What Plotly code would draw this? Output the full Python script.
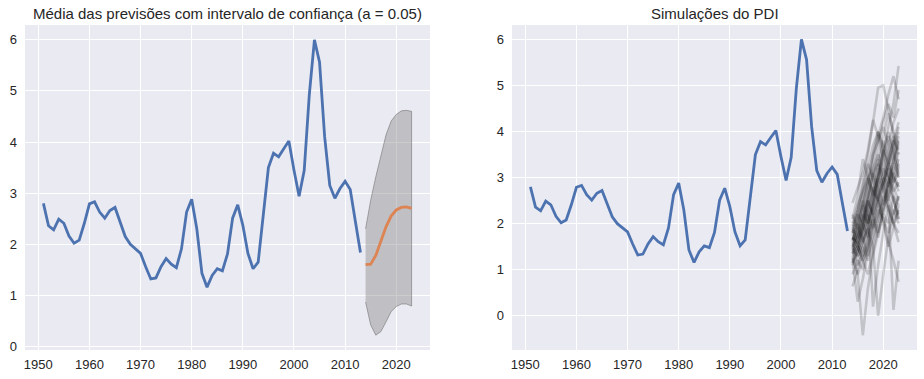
import plotly.graph_objects as go

years = list(range(1951, 2014))
pdi = [2.80, 2.36, 2.28, 2.49, 2.41, 2.16, 2.02, 2.08, 2.41, 2.79,
       2.83, 2.63, 2.51, 2.66, 2.72, 2.42, 2.15, 2.00, 1.90, 1.82,
       1.56, 1.32, 1.34, 1.56, 1.72, 1.61, 1.54, 1.91, 2.63, 2.88,
       2.30, 1.43, 1.16, 1.39, 1.52, 1.48, 1.81, 2.51, 2.77, 2.37,
       1.82, 1.52, 1.65, 2.54, 3.50, 3.78, 3.71, 3.87, 4.02, 3.45,
       2.94, 3.44, 4.93, 6.00, 5.56, 4.10, 3.15, 2.90, 3.09, 3.23,
       3.07, 2.45, 1.84]

f_years = list(range(2014, 2024))
f_mean = [1.60, 1.61, 1.78, 2.07, 2.34, 2.55, 2.67, 2.72, 2.73, 2.70]
f_upper = [2.30, 2.86, 3.32, 3.76, 4.14, 4.41, 4.54, 4.61, 4.62, 4.60]
f_lower = [0.87, 0.42, 0.22, 0.29, 0.48, 0.68, 0.78, 0.83, 0.83, 0.79]

sim_paths = [
    [1.62, 1.95, 2.40, 2.85, 3.10, 3.30, 3.05, 2.80, 3.20, 3.55],
    [1.40, 1.10, 1.30, 1.80, 2.20, 2.60, 2.90, 3.40, 3.80, 3.60],
    [1.85, 2.30, 2.90, 3.50, 4.20, 4.95, 5.00, 4.50, 3.90, 3.20],
    [1.30, 0.90, -0.42, 0.60, 1.30, 1.80, 2.20, 2.00, 2.60, 2.40],
    [2.10, 2.60, 3.40, 3.00, 2.70, 2.50, 2.90, 3.30, 3.00, 2.80],
    [1.70, 1.50, 1.20, 1.60, 2.40, 3.00, 3.60, 4.10, 4.60, 5.42],
    [1.20, 0.31, 0.80, 1.40, 1.90, 2.30, 2.10, 1.60, 1.20, 0.74],
    [1.55, 1.75, 2.10, 2.50, 2.20, 1.80, 2.30, 2.90, 3.40, 3.90],
    [0.64, 1.00, 1.50, 2.00, 2.40, 2.80, 3.20, 3.00, 2.70, 2.90],
    [1.90, 2.20, 2.00, 2.60, 3.40, 3.90, 4.30, 4.80, 5.20, 4.70],
    [1.45, 1.30, 1.60, 1.90, 1.50, 0.00, 0.90, 1.70, 2.20, 2.60],
    [1.75, 2.05, 2.60, 3.20, 3.70, 4.00, 3.60, 3.10, 2.60, 2.10],
    [1.35, 1.60, 1.90, 2.30, 2.70, 3.20, 3.80, 3.50, 3.00, 3.30],
    [2.45, 2.80, 3.10, 3.60, 4.25, 3.90, 3.40, 3.00, 2.50, 2.20],
    [1.60, 1.40, 1.70, 2.20, 0.20, 1.10, 1.80, 2.40, 2.00, 1.80],
    [1.10, 1.40, 1.80, 2.10, 2.60, 3.00, 2.70, 2.40, 0.13, 1.20],
    [1.85, 1.60, 2.00, 2.40, 2.90, 3.40, 3.90, 4.40, 4.00, 3.70],
    [1.50, 1.85, 2.20, 2.00, 2.50, 3.00, 3.30, 3.70, 4.20, 4.50],
    [1.25, 0.90, 1.20, 1.50, 1.90, 2.20, 2.60, 2.30, 2.00, 1.60],
    [2.00, 2.40, 2.70, 3.00, 3.20, 3.50, 3.20, 2.80, 3.10, 3.40],
    [1.65, 2.00, 1.70, 1.30, 1.70, 2.10, 2.50, 2.90, 3.30, 3.00],
    [1.40, 1.70, 2.30, 2.90, 3.50, 3.80, 4.10, 3.70, 3.30, 3.80],
    [1.80, 2.10, 2.50, 2.20, 1.90, 2.40, 2.80, 3.20, 3.70, 4.10],
    [1.30, 1.50, 1.20, 0.90, 1.40, 1.90, 2.40, 2.80, 2.50, 2.10],
    [1.55, 1.30, 1.60, 2.00, 2.40, 2.90, 3.50, 4.00, 3.60, 3.00],
    [1.95, 2.30, 2.80, 3.30, 3.00, 2.60, 2.20, 2.60, 3.00, 2.70],
    [1.15, 1.40, 1.90, 2.50, 3.10, 3.70, 4.20, 4.60, 4.30, 4.90],
    [1.70, 1.60, 1.90, 2.30, 2.80, 2.50, 2.10, 1.80, 2.30, 2.00],
    [1.45, 1.80, 2.20, 2.60, 3.00, 3.40, 2.90, 2.50, 2.90, 3.20],
    [1.60, 1.90, 1.60, 1.90, 2.30, 2.70, 3.10, 3.50, 3.90, 3.50],
    [0.90, 1.20, 1.00, 1.50, 2.00, 2.50, 2.00, 1.50, 1.90, 2.40],
    [2.20, 1.90, 2.40, 2.90, 3.50, 4.00, 3.70, 3.30, 3.80, 4.20],
    [1.50, 1.20, 1.50, 1.20, 1.60, 2.10, 2.70, 3.20, 2.80, 2.50],
    [1.80, 2.20, 2.60, 3.00, 2.60, 3.10, 3.60, 3.30, 2.90, 3.10],
    [1.35, 1.60, 1.30, 1.70, 2.10, 1.70, 2.30, 2.70, 3.10, 2.80],
    [1.65, 2.00, 2.40, 2.00, 2.50, 3.00, 3.50, 3.90, 3.50, 3.10],
    [1.20, 1.50, 2.00, 2.50, 2.20, 2.60, 3.00, 2.60, 2.20, 2.60],
    [1.90, 1.70, 2.10, 2.60, 3.10, 2.80, 2.40, 2.90, 3.40, 3.70],
    [1.50, 1.70, 2.00, 1.70, 2.10, 2.50, 2.90, 3.30, 3.60, 4.00],
    [1.75, 1.50, 1.80, 2.20, 2.70, 3.20, 2.80, 2.40, 2.00, 2.30],
]

titles = ["Média das previsões com intervalo de confiança (a = 0.05)", "Simulações do PDI"]

BLUE = "#4C72B0"
ORANGE = "#DD8452"
TXT = "#262626"
FONT = "Liberation Sans, Arial, sans-serif"

fig = go.Figure()

# Left panel
fig.add_trace(go.Scatter(
    x=f_years + f_years[::-1], y=f_upper + f_lower[::-1],
    fill="toself", fillcolor="rgba(128,128,128,0.4)",
    line=dict(color="rgba(110,110,110,0.55)", width=1),
    mode="lines", xaxis="x", yaxis="y", hoverinfo="skip"))
fig.add_trace(go.Scatter(x=years, y=pdi, mode="lines",
                         line=dict(color=BLUE, width=2.8), xaxis="x", yaxis="y"))
fig.add_trace(go.Scatter(x=f_years, y=f_mean, mode="lines",
                         line=dict(color=ORANGE, width=2.8), xaxis="x", yaxis="y"))

# Right panel
fig.add_trace(go.Scatter(x=years, y=pdi, mode="lines",
                         line=dict(color=BLUE, width=2.8), xaxis="x2", yaxis="y2"))
for p in sim_paths:
    fig.add_trace(go.Scatter(x=f_years, y=p, mode="lines",
                             line=dict(color="rgba(0,0,0,0.17)", width=2.6),
                             xaxis="x2", yaxis="y2", hoverinfo="skip"))

W, H = 924, 379
ax_common = dict(showgrid=True, gridcolor="white", gridwidth=1.2, zeroline=False,
                 showline=False, ticks="", automargin=False,
                 tickfont=dict(size=13, color=TXT, family=FONT))

ydom = [29 / H, 354 / H]
fig.update_layout(
    width=W, height=H,
    margin=dict(l=0, r=0, t=0, b=0, autoexpand=False),
    paper_bgcolor="white", plot_bgcolor="#EAEAF2",
    showlegend=False,
    font=dict(family=FONT, color=TXT),
    xaxis=dict(domain=[25 / W, 430 / W], range=[1947.4, 2026.6], tickvals=list(range(1950, 2030, 10)),
               anchor="y", ticklabelstandoff=5, **ax_common),
    yaxis=dict(domain=ydom, range=[-0.07, 6.29], tickvals=list(range(0, 7)),
               anchor="x", ticklabelstandoff=7, **ax_common),
    xaxis2=dict(domain=[512 / W, 917 / W], range=[1947.4, 2026.6], tickvals=list(range(1950, 2030, 10)),
                anchor="y2", ticklabelstandoff=5, **ax_common),
    yaxis2=dict(domain=ydom, range=[-0.74, 6.31], tickvals=list(range(0, 7)),
                anchor="x2", ticklabelstandoff=7, **ax_common),
    annotations=[
        dict(text=titles[0], x=(25 + 430) / 2 / W, y=1 - 13 / H, xref="paper", yref="paper",
             showarrow=False, font=dict(size=15, color=TXT, family=FONT), xanchor="center", yanchor="middle"),
        dict(text=titles[1], x=(512 + 917) / 2 / W, y=1 - 13 / H, xref="paper", yref="paper",
             showarrow=False, font=dict(size=15, color=TXT, family=FONT), xanchor="center", yanchor="middle"),
    ],
)

fig.write_html("out.html", config={"displayModeBar": False},
               post_script="document.body.style.margin='0';")
